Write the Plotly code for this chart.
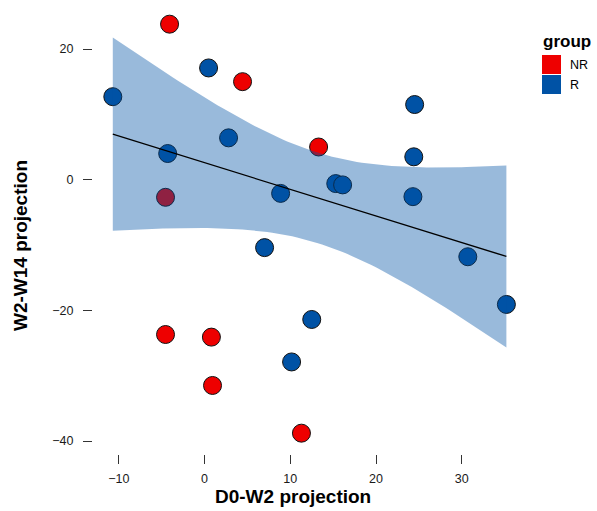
import numpy as np
import plotly.graph_objects as go

# ---- data ----
groups = ["NR", "R"]
group_colors = {"NR": "#EE0000", "R": "#0052A5"}

nr_x = [-4.08, 4.43, 13.3, -4.55, -4.55, 0.8, 0.93, 11.3]
nr_y = [23.8, 15.0, 5.0, -2.7, -23.7, -24.1, -31.5, -38.8]

r_x = [-10.7, 0.47, 2.8, -4.3, 8.87, 15.3, 16.1, 7.0, 12.5, 10.15, 24.5, 24.4, 24.3, 30.7, 35.2]
r_y = [12.7, 17.1, 6.4, 4.0, -2.1, -0.6, -0.8, -10.4, -21.4, -27.9, 11.5, 3.5, -2.6, -11.8, -19.1]

x_ticks = [-10, 0, 10, 20, 30]
y_ticks = [-40, -20, 0, 20]
x_title = "D0-W2 projection"
y_title = "W2-W14 projection"
legend_title = "group"

T_QUANT = 2.1604  # t(0.975, df=13)

# ---- layout geometry (pixels) ----
W, H = 597, 511
L, R_, T, B = 93, 525, 3, 454


def px2paper_x(px):
    return (px - L) / (R_ - L)


def px2paper_y(py):
    return (B - py) / (B - T)


fig = go.Figure()

# points first (ribbon drawn over them, as in the original)
series = {"NR": (nr_x, nr_y), "R": (r_x, r_y)}
for g in groups:
    xs, ys = series[g]
    fig.add_trace(go.Scatter(
        x=xs, y=ys, mode="markers", name=g, showlegend=False,
        marker=dict(size=18, color=group_colors[g], line=dict(color="#111", width=1)),
    ))

# linear fit with 95% CI for R group
rx = np.array(r_x); ry = np.array(r_y)
n = len(rx)
xbar = rx.mean(); ybar = ry.mean()
sxx = ((rx - xbar) ** 2).sum()
slope = ((rx - xbar) * (ry - ybar)).sum() / sxx
icpt = ybar - slope * xbar
resid = ry - (icpt + slope * rx)
s = np.sqrt((resid ** 2).sum() / (n - 2))
grid = np.linspace(rx.min(), rx.max(), 80)
fit = icpt + slope * grid
se = s * np.sqrt(1 / n + (grid - xbar) ** 2 / sxx)
up = fit + T_QUANT * se
lo = fit - T_QUANT * se

fig.add_trace(go.Scatter(
    x=np.concatenate([grid, grid[::-1]]), y=np.concatenate([up, lo[::-1]]),
    fill="toself", fillcolor="rgba(0,82,165,0.4)", line=dict(width=0),
    mode="lines", showlegend=False, hoverinfo="skip",
))
fig.add_trace(go.Scatter(
    x=grid, y=fit, mode="lines", line=dict(color="black", width=1.3), showlegend=False,
))

# axis ranges from pixel geometry
xpu = (461 - 118) / 40.0
x0 = 118.8 + 10 * xpu
ypu = (440 - 48) / 60.0
y0 = 49 + 20 * ypu
xr = [(L - x0) / xpu, (R_ - x0) / xpu]
yr = [(y0 - B) / ypu, (y0 - T) / ypu]

tickfont = dict(family="Liberation Sans, Arial, sans-serif", size=12.5, color="#1a1a1a")
fig.update_xaxes(range=xr, tickvals=x_ticks, showgrid=False, zeroline=False, showline=False,
                 ticks="outside", ticklen=9, tickwidth=1, tickcolor="#333",
                 tickfont=tickfont, ticklabelstandoff=4)
fig.update_yaxes(range=yr, tickvals=y_ticks, showgrid=False, zeroline=False, showline=False,
                 ticks="outside", ticklen=9, tickwidth=1, tickcolor="#333",
                 tickfont=tickfont, ticklabelstandoff=7)

titlefont = dict(family="Liberation Sans, Arial, sans-serif", size=19, color="black", weight="bold")
ann = [
    dict(text=x_title, x=px2paper_x(293), y=px2paper_y(497), xref="paper", yref="paper",
         showarrow=False, font=titlefont, xanchor="center", yanchor="middle"),
    dict(text=y_title, x=px2paper_x(20), y=px2paper_y(246), xref="paper", yref="paper",
         showarrow=False, font=titlefont, xanchor="center", yanchor="middle", textangle=-90),
    dict(text=legend_title, x=px2paper_x(541), y=px2paper_y(42), xref="paper", yref="paper",
         showarrow=False, font=dict(family="Liberation Sans, Arial, sans-serif", size=17,
                                    color="black", weight="bold"),
         xanchor="left", yanchor="middle"),
]
shapes = []
for i, g in enumerate(groups):
    top = 55 + i * 20
    shapes.append(dict(type="rect", xref="paper", yref="paper",
                       x0=px2paper_x(542), x1=px2paper_x(561),
                       y0=px2paper_y(top + 19), y1=px2paper_y(top),
                       fillcolor=group_colors[g], line=dict(width=0)))
    ann.append(dict(text=g, x=px2paper_x(568), y=px2paper_y(top + 10), xref="paper", yref="paper",
                    showarrow=False, xanchor="left", yanchor="middle",
                    font=dict(family="Liberation Sans, Arial, sans-serif", size=12.5, color="black")))

fig.update_layout(
    width=W, height=H, margin=dict(l=L, r=W - R_, t=T, b=H - B),
    plot_bgcolor="white", paper_bgcolor="white",
    annotations=ann, shapes=shapes, showlegend=False,
)

fig.write_html("out.html")
